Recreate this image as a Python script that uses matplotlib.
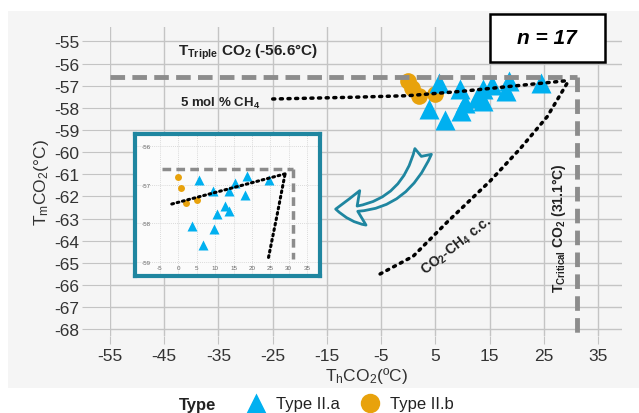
import matplotlib
matplotlib.use("Agg")
import matplotlib.pyplot as plt
from matplotlib.lines import Line2D
from matplotlib.patches import Rectangle, FancyArrowPatch

plt.rcParams["font.family"] = ["Liberation Sans", "DejaVu Sans"]
plt.rcParams["axes.unicode_minus"] = False
plt.rcParams["mathtext.fontset"] = "custom"
plt.rcParams["mathtext.rm"] = "Liberation Sans"
plt.rcParams["mathtext.it"] = "Liberation Sans:italic"
plt.rcParams["mathtext.bf"] = "Liberation Sans:bold"

# Type II.a (triangles) and Type II.b (circles): Th CO2 vs Tm CO2 (degC)
th_a = [5.6, 3.8, 6.8, 9.5, 9.8, 10.4, 12.7, 13.8, 13.8, 15.4, 18.6, 18.1, 24.5]
tm_a = [-56.87, -58.06, -58.56, -57.16, -58.15, -57.76, -57.56, -57.16,
        -57.67, -56.96, -56.77, -57.26, -56.87]
th_b = [0.0, 0.7, 2.0, 5.0]
tm_b = [-56.79, -57.09, -57.48, -57.39]

# reference curves
t_triple = -56.6
t_critical = 31.1
mol5_x = [-25, -10, 0, 10, 20, 29]
mol5_y = [-57.6, -57.52, -57.45, -57.25, -57.0, -56.78]
cc_x = [-5.2, 0.9, 7.2, 15.1, 20.6, 25.6, 29.5]
cc_y = [-65.5, -64.7, -63.15, -61.3, -59.85, -58.4, -56.8]
cc_in_x = [24.5, 26.8, 29.0]
cc_in_y = [-58.88, -57.8, -56.72]

xticks = [-55, -45, -35, -25, -15, -5, 5, 15, 25, 35]
yticks = list(range(-55, -69, -1))
in_xticks = [-5, 0, 5, 10, 15, 20, 25, 30, 35]
in_yticks = [-56, -57, -58, -59]

BLUE = "#00b0f0"
ORANGE = "#e8a20c"
TEAL = "#1f86a0"
GRAY = "#8c8c8c"
BG = "#f5f5f5"

fig = plt.figure(figsize=(6.39, 4.14), dpi=100)
fig.patches.append(Rectangle((8 / 639, 1 - 389 / 414), 1, (389 - 12) / 414,
                             transform=fig.transFigure, facecolor=BG,
                             edgecolor="none", zorder=-10))

ax = fig.add_axes([110 / 639, 1 - 337 / 414, 512 / 639, 309 / 414])
ax.set_facecolor(BG)
ax.set_xlim(-55, 39.4)
ax.set_ylim(-68.3, -54.35)
ax.set_xticks(xticks)
ax.set_yticks(yticks)
ax.grid(True, color="#c4c4c4", lw=1.0)
ax.set_axisbelow(True)
for s in ax.spines.values():
    s.set_visible(False)
ax.tick_params(axis="y", length=20, width=0.8, color="#c4c4c4", pad=2,
               labelsize=12.5, labelcolor="#333333")
ax.tick_params(axis="x", length=6, width=0.8, color="#c4c4c4", pad=3,
               labelsize=12.5, labelcolor="#333333")
ax.set_xlabel("T$_\\mathregular{h}$CO$_\\mathregular{2}$(ºC)", fontsize=12.5,
              color="#333333", labelpad=1)
ax.set_ylabel("T$_\\mathregular{m}$CO$_\\mathregular{2}$(°C)", fontsize=12.5,
              color="#333333", labelpad=2)

ax.plot(th_b, tm_b, "o", ms=12, color=ORANGE, mec="none", zorder=3)
ax.plot(th_a, tm_a, "^", ms=15, color=BLUE, mec="none", zorder=4)

ax.plot([-55, t_critical], [t_triple, t_triple], color=GRAY, lw=3.5,
        dashes=(3, 1.5), zorder=5)
ax.plot([t_critical, t_critical], [t_triple, -68.3], color=GRAY, lw=3.5,
        dashes=(3, 1.5), zorder=5)
ax.plot(mol5_x, mol5_y, color="black", lw=2.5, dashes=(0.6, 1.6),
        dash_capstyle="round", zorder=6)
ax.plot(cc_x, cc_y, color="black", lw=2.5, dashes=(0.6, 1.6),
        dash_capstyle="round", zorder=6)

ax.text(-29.5, -55.45, "T$_{\\mathbf{Triple}}$ CO$_{\\mathbf{2}}$ (-56.6°C)",
        ha="center", va="center", fontsize=11, fontweight="bold", color="#222222")
ax.text(-34.7, -57.75, "5 mol % CH$_{\\mathbf{4}}$", ha="center", va="center",
        fontsize=9.5, fontweight="bold", color="#222222")
ax.text(8.9, -64.2, "CO$_{\\mathbf{2}}$-CH$_{\\mathbf{4}}$ c.c.", ha="center",
        va="center", rotation=38, fontsize=10, fontweight="bold", color="#222222")
ax.text(27.7, -63.4, "T$_{\\mathbf{Critical}}$ CO$_{\\mathbf{2}}$ (31.1°C)",
        ha="center", va="center", rotation=90, fontsize=10, fontweight="bold",
        color="#222222")

arrow = FancyArrowPatch((2.9, -59.85), (-13.9, -62.56),
                        connectionstyle="arc3,rad=-0.4",
                        arrowstyle="fancy,head_width=0.9,head_length=0.7,tail_width=0.45",
                        mutation_scale=28, facecolor=BG, edgecolor=TEAL, lw=2,
                        zorder=7)
ax.add_patch(arrow)

# n box
fig.patches.append(Rectangle((490 / 639, 1 - 63 / 414), 115 / 639, 48 / 414,
                             transform=fig.transFigure, facecolor="white",
                             edgecolor="black", lw=1.8, zorder=10))
fig.text(547 / 639, 1 - 39 / 414, "n = 17", ha="center", va="center",
         fontsize=15, fontweight="bold", style="italic", zorder=11)

# inset
ins = fig.add_axes([135 / 639, 1 - 277 / 414, 185 / 639, 142 / 414])
ins.set_facecolor("#fbfbfb")
ins.set_xlim(-11.8, 38.5)
ins.set_ylim(-59.36, -55.69)
ins.set_xticks(in_xticks)
ins.set_yticks(in_yticks)
ins.grid(True, color="#d0d0d0", lw=0.6, ls=(0, (1, 1.5)))
ins.set_axisbelow(True)
for s in ins.spines.values():
    s.set_color(TEAL)
    s.set_linewidth(3)
ins.tick_params(axis="x", length=0, pad=-8, labelsize=4.5, labelcolor="#666666")
ins.tick_params(axis="y", length=0, pad=-11.5, labelsize=4.5, labelcolor="#666666")
ins.plot(th_b, tm_b, "o", ms=5, color=ORANGE, mec="none", zorder=3)
ins.plot(th_a, tm_a, "^", ms=6.5, color=BLUE, mec="none", zorder=4)
ins.plot([-4.5, t_critical], [t_triple, t_triple], color=GRAY, lw=2.5,
         dashes=(2.5, 1.5), zorder=5)
ins.plot([t_critical, t_critical], [t_triple, -58.92], color=GRAY, lw=2.5,
         dashes=(2.5, 1.5), zorder=5)
ins.plot([-1.8, 29.0], [-57.5, -56.72], color="black", lw=2.2,
         dashes=(0.6, 1.2), dash_capstyle="round", zorder=6)
ins.plot(cc_in_x, cc_in_y, color="black", lw=2.2, dashes=(0.6, 1.2),
         dash_capstyle="round", zorder=6)

# legend
fig.text(198 / 639, 1 - 406 / 414, "Type", ha="center", va="center",
         fontsize=12, fontweight="bold", color="#222222")
handles = [Line2D([], [], ls="none", marker="^", ms=15, color=BLUE, mec="none"),
           Line2D([], [], ls="none", marker="o", ms=14, color=ORANGE, mec="none")]
fig.legend(handles, ["Type II.a", "Type II.b"], loc="center",
           bbox_to_anchor=(350 / 639, 1 - 405 / 414), ncol=2, frameon=False,
           fontsize=12, handlelength=1.2, handletextpad=0.6, columnspacing=1.2,
           labelcolor="#222222")

fig.savefig("out.png", dpi=100)
